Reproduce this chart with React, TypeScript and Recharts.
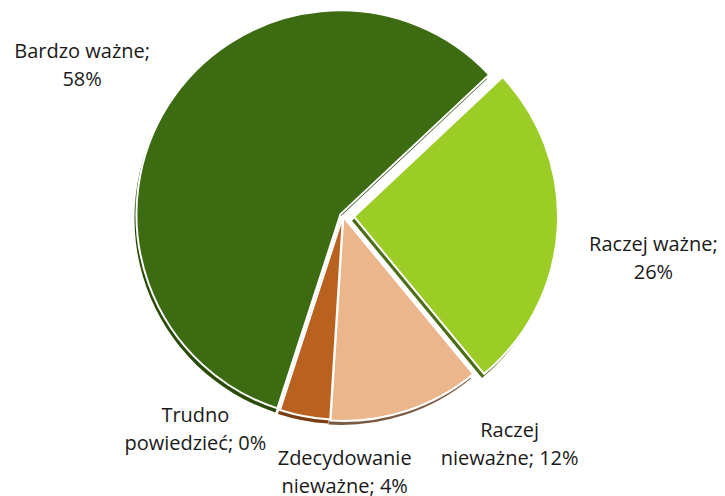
import { PieChart, Pie, Sector } from 'recharts';

const NAMES = ['Bardzo ważne', 'Raczej ważne', 'Raczej nieważne', 'Zdecydowanie nieważne', 'Trudno powiedzieć'];
const VALUES = [58, 26, 12, 4, 0];
// label text split into lines, as Excel wrapped them
const LABEL_LINES = [
  ['Bardzo ważne;', '58%'],
  ['Raczej ważne;', '26%'],
  ['Raczej', 'nieważne; 12%'],
  ['Zdecydowanie', 'nieważne; 4%'],
  ['Trudno', 'powiedzieć; 0%'],
];

const TOP_COLORS = ['#3d6b12', '#9ccc26', '#ebb68b', '#b9621f', '#888888'];
const SIDE_COLORS = ['#2a4b08', '#4b6e14', '#7b5a44', '#7a3e12', '#555555'];
// how far each slice is pulled out of the centre
const EXPLODE = [3, 11, 1, 0, 0];
// label nudges (px) relative to a point on the mid angle
const LABEL_NUDGE = [
  [-16, 3],
  [21, 23],
  [77, -49],
  [56, -30],
  [-58, -64],
];

const W = 725;
const H = 496;
const CX = 343;
const CY = 216;
const R = 204;
const RAD = Math.PI / 180;

const data = NAMES.map((name, i) => ({ name, value: VALUES[i] }));

function explodeOffset(mid: number, i: number) {
  const d = EXPLODE[i] || 0;
  return [d * Math.cos(-mid * RAD), d * Math.sin(-mid * RAD)];
}

function SideShape(props: any) {
  const { index, midAngle } = props;
  const [dx, dy] = explodeOffset(midAngle, index);
  return (
    <Sector
      {...props}
      cx={props.cx + dx - 2}
      cy={props.cy + dy + 4}
      fill={SIDE_COLORS[index]}
      stroke="none"
    />
  );
}

function TopShape(props: any) {
  const { index, midAngle } = props;
  const [dx, dy] = explodeOffset(midAngle, index);
  return (
    <Sector
      {...props}
      cx={props.cx + dx}
      cy={props.cy + dy}
      fill={TOP_COLORS[index]}
      stroke="#ffffff"
      strokeWidth={2}
    />
  );
}

function renderLabel(props: any) {
  const { midAngle, cx, cy, index } = props;
  const r = 290;
  const x = cx + r * Math.cos(-midAngle * RAD) + LABEL_NUDGE[index][0];
  const y = cy + r * Math.sin(-midAngle * RAD) + LABEL_NUDGE[index][1];
  const lines = LABEL_LINES[index];
  return (
    <text
      key={index}
      x={x}
      y={y - 14}
      textAnchor="middle"
      fill="#1a1a1a"
      fontSize={20}
      fontFamily="'Open Sans', Lato, sans-serif"
      dominantBaseline="central"
    >
      {lines.map((ln, j) => (
        <tspan key={j} x={x} dy={j === 0 ? 0 : 28}>{ln}</tspan>
      ))}
    </text>
  );
}

export default function App() {
  return (
    <div style={{ position: 'absolute', left: 0, top: 0, width: W, height: H, background: '#fff' }}>
      <PieChart width={W} height={H} margin={{ top: 0, right: 0, bottom: 0, left: 0 }}>
        <Pie
          data={data}
          dataKey="value"
          nameKey="name"
          cx={CX}
          cy={CY}
          outerRadius={R}
          startAngle={252}
          endAngle={-108}
          shape={SideShape}
          isAnimationActive={false}
          label={false}
          labelLine={false}
        />
        <Pie
          data={data}
          dataKey="value"
          nameKey="name"
          cx={CX}
          cy={CY}
          outerRadius={R}
          startAngle={252}
          endAngle={-108}
          shape={TopShape}
          isAnimationActive={false}
          label={renderLabel}
          labelLine={false}
        />
      </PieChart>
    </div>
  );
}
